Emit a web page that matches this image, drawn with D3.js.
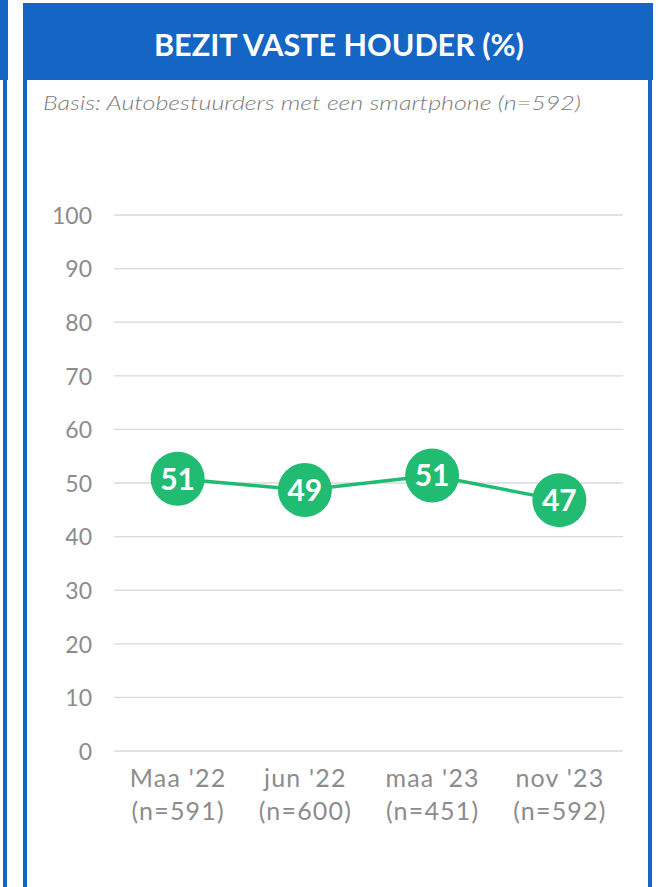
<!DOCTYPE html>
<html lang="nl">
<head>
<meta charset="utf-8">
<title>Bezit vaste houder</title>
<script src="https://d3js.org/d3.v7.min.js"></script>
<style>
  body { margin: 0; padding: 0; background: #fff; }
  svg { display: block; }
  .grid line { stroke: #d9d9d9; stroke-width: 1.3px; }
  .axis text { fill: #8c8c8c; font-family: Lato, 'Open Sans', sans-serif; font-weight: 400; }
</style>
</head>
<body>
<script>
// data
var categories = ["Maa '22", "jun '22", "maa '23", "nov '23"];
var sampleSizes = ["(n=591)", "(n=600)", "(n=451)", "(n=592)"];
var values = [50.8, 48.7, 51.4, 46.8];
var yTicks = [0, 10, 20, 30, 40, 50, 60, 70, 80, 90, 100];

var width = 659, height = 887;
var blue = "#1565c4", green = "#22bb72";

var svg = d3.select("body").append("svg")
    .attr("width", width)
    .attr("height", height);

// neighbouring panel edge on the left
svg.append("rect").attr("x", 0).attr("y", 0).attr("width", 8).attr("height", 80).attr("fill", blue);
svg.append("rect").attr("x", 3).attr("y", 80).attr("width", 4).attr("height", height - 80).attr("fill", blue);

// panel frame
svg.append("rect").attr("x", 23).attr("y", 3).attr("width", 4).attr("height", height).attr("fill", blue);
svg.append("rect").attr("x", 648).attr("y", 3).attr("width", 4).attr("height", height).attr("fill", blue);
svg.append("rect").attr("x", 23).attr("y", 3).attr("width", 630).attr("height", 77).attr("fill", blue);

svg.append("text")
    .attr("x", 339).attr("y", 56)
    .attr("text-anchor", "middle")
    .attr("fill", "#fff")
    .attr("font-family", "Lato, 'Open Sans', sans-serif")
    .attr("font-weight", 700)
    .attr("font-size", 30)
    .attr("textLength", 370)
    .attr("lengthAdjust", "spacingAndGlyphs")
    .text("BEZIT VASTE HOUDER (%)");

svg.append("text")
    .attr("x", 43).attr("y", 110)
    .attr("fill", "#7a7a7a")
    .attr("font-family", "Lato, 'Open Sans', sans-serif")
    .attr("font-style", "italic")
    .attr("font-weight", 300)
    .attr("font-size", 19)
    .attr("textLength", 538)
    .attr("lengthAdjust", "spacingAndGlyphs")
    .text("Basis: Autobestuurders met een smartphone (n=592)");

// scales
var x = d3.scalePoint().domain(categories).range([114, 623]).padding(0.5);
var y = d3.scaleLinear().domain([0, 100]).range([751, 215]);

// gridlines
svg.append("g").attr("class", "grid")
  .selectAll("line").data(yTicks).enter().append("line")
    .attr("x1", 114).attr("x2", 623)
    .attr("y1", function(d) { return y(d); })
    .attr("y2", function(d) { return y(d); });

// y axis labels
var yAxis = svg.append("g").attr("class", "axis")
    .attr("transform", "translate(92,0)")
    .call(d3.axisLeft(y).tickValues(yTicks).tickSize(0).tickPadding(0));
yAxis.select(".domain").remove();
yAxis.selectAll("text").attr("font-size", 23).attr("dy", "0.36em");

// x axis labels (two lines)
var xAxis = svg.append("g").attr("class", "axis")
    .attr("transform", "translate(0,751)")
    .call(d3.axisBottom(x).tickSize(0).tickPadding(0).tickFormat(""));
xAxis.select(".domain").remove();
xAxis.selectAll(".tick").each(function(d, i) {
  var t = d3.select(this).append("text")
      .attr("text-anchor", "middle")
      .attr("font-size", 25)
      .attr("letter-spacing", 1.2);
  t.append("tspan").attr("x", 0).attr("y", 36).text(categories[i]);
  t.append("tspan").attr("x", 0).attr("y", 69).text(sampleSizes[i]);
});

// line
var line = d3.line()
    .x(function(d, i) { return x(categories[i]); })
    .y(function(d) { return y(d); });

svg.append("path")
    .datum(values)
    .attr("d", line)
    .attr("fill", "none")
    .attr("stroke", green)
    .attr("stroke-width", 3.5);

// markers with value labels
var pts = svg.append("g").selectAll("g").data(values).enter().append("g")
    .attr("transform", function(d, i) { return "translate(" + x(categories[i]) + "," + y(d) + ")"; });

pts.append("circle").attr("r", 27).attr("fill", green);
pts.append("text")
    .attr("text-anchor", "middle")
    .attr("dy", "0.36em")
    .attr("fill", "#fff")
    .attr("font-family", "Lato, 'Open Sans', sans-serif")
    .attr("font-weight", 700)
    .attr("font-size", 30)
    .text(function(d) { return d3.format(".0f")(d); });
</script>
</body>
</html>
